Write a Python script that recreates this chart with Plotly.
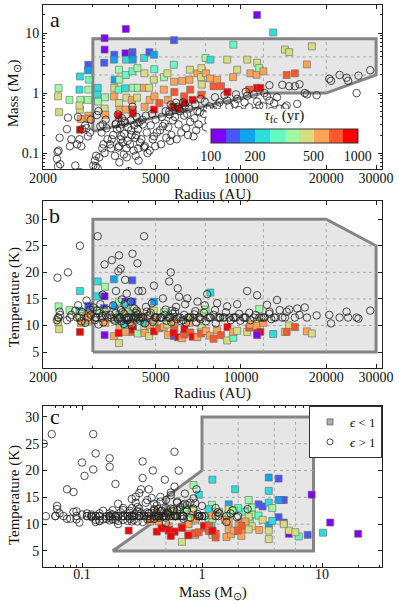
import math
import plotly.graph_objects as go

# ---- squares: cores with epsilon < 1 (radius AU, mass Msun, temperature K, tau_fc yr)
sq_radius = [2270, 2260, 2280, 2480, 2700, 2690, 2710, 2700, 2720, 2700, 2690,
             2890, 2880, 2900, 2890, 2880, 2890, 2900,
             3120, 3110, 3130,
             3300, 3300, 3290, 3310, 3300, 3320,
             3570, 3560, 3580, 3570, 3560,
             3710, 3720, 3700, 3710, 3730, 3700,
             3920, 3910, 3930, 3920, 3900, 3940, 3920,
             4140, 4130, 4150, 4140, 4160, 4120, 4140, 4150,
             4310, 4320, 4300,
             4550, 4560, 4540, 4570,
             4750, 4740, 4760,
             4930, 4940, 4920, 4950, 4930,
             5150, 5350, 5340, 5500, 5520,
             5800, 5790, 5810, 5820, 5780,
             6000, 6200, 6300, 6320,
             6600, 6580, 6620, 6750,
             7020, 7250, 7230, 7270, 7250,
             7500, 7520, 7800, 7780,
             8000, 8240, 8500, 8940, 8960,
             9400, 9380, 9700, 10520, 10700, 10800,
             11400, 11400, 11350, 11600, 11700, 12000,
             11400, 13000, 14300, 14800, 15500, 17100, 17800, 14500]
sq_mass = [1.21, 0.88, 0.48, 0.77, 1.89, 1.14, 0.77, 0.53, 0.37, 0.245, 0.62,
           2.96, 2.38, 1.67, 1.14, 0.77, 0.42, 0.37,
           1.22, 0.94, 0.72,
           8.2, 5.3, 3.2, 0.85, 0.55, 0.435,
           4.35, 3.6, 1.67, 1.22, 0.88,
           2.45, 1.67, 1.14, 0.68, 0.53, 0.42,
           11.7, 4.6, 3.6, 2.0, 1.2, 0.84, 0.53,
           4.8, 4.35, 3.6, 2.3, 1.22, 0.77, 0.53, 0.46,
           2.6, 1.22, 0.84,
           3.85, 2.13, 1.22, 0.59,
           4.8, 1.22, 0.77,
           4.35, 2.5, 1.67, 0.88, 0.53,
           0.68, 1.84, 1.14, 2.13, 0.77,
           7.6, 2.96, 1.55, 1.04, 0.59,
           0.55, 1.6, 0.88, 0.68,
           2.45, 1.67, 1.14, 0.77,
           2.13, 2.6, 1.84, 1.38, 0.94,
           3.85, 2.13, 3.6, 1.75,
           1.3, 1.67, 1.3, 3.6, 1.04,
           6.4, 1.84, 2.45, 3.6, 1.14, 2.13,
           1.22, 3.2, 2.02, 2.6, 1.22, 2.3,
           20.0, 10.2, 5.3, 4.8, 2.13, 3.0, 6.0, 2.0]
sq_temp = [13.6, 10.7, 9.3, 12.9, 16.5, 12.8, 12.2, 11.5, 10.5, 8.8, 11.8,
           13.7, 12.4, 12.0, 11.5, 10.7, 12.2, 11.0,
           18.3, 15.5, 12.9,
           15.5, 8.2, 13.3, 17.3, 12.5, 10.5,
           11.3, 18.7, 13.7, 11.2, 8.0,
           14.5, 12.0, 10.8, 6.7, 9.6, 8.6,
           10.3, 14.5, 14.0, 13.0, 9.8, 12.5, 8.8,
           14.5, 18.5, 9.8, 12.3, 11.0, 10.0, 8.8, 9.2,
           11.8, 8.5, 12.5,
           10.6, 9.2, 11.6, 8.6,
           10.3, 8.0, 10.0,
           14.5, 10.6, 12.8, 11.0, 8.9,
           9.5, 12.5, 9.7, 10.2, 8.2,
           8.0, 11.6, 10.8, 9.3, 8.6,
           7.8, 7.6, 8.3, 9.3,
           11.4, 10.5, 8.7, 7.9,
           7.8, 9.6, 8.7, 12.3, 8.5,
           13.0, 9.0, 16.2, 8.1,
           7.5, 9.1, 8.2, 7.2, 9.7,
           7.7, 8.8, 9.0, 8.8, 9.6, 10.2,
           8.7, 10.8, 9.9, 13.1, 8.8, 10.5,
           8.2, 8.4, 8.8, 10.0, 9.7, 8.9, 8.5, 8.8]
sq_tau = [350, 440, 420, 340, 225, 215, 365, 460, 560, 900, 470,
          140, 180, 280, 380, 345, 540, 580,
          235, 240, 360,
          110, 105, 135, 370, 430, 600,
          148, 172, 190, 455, 520,
          335, 355, 270, 480, 570, 850,
          118, 112, 220, 295, 230, 445, 610,
          142, 138, 185, 285, 375, 550, 700, 950,
          348, 390, 410,
          212, 465, 590, 530,
          145, 440, 560,
          176, 300, 420, 540, 880,
          680, 350, 580, 460, 600,
          140, 275, 520, 720, 920,
          980, 570, 750, 860,
          430, 610, 690, 940,
          550, 455, 480, 445, 740,
          360, 590, 228, 530,
          710, 560, 760, 410, 900,
          290, 540, 465, 440, 700, 580,
          850, 420, 600, 345, 950, 570,
          108, 225, 460, 430, 720, 550, 445, 690]

# ---- circles: cores with epsilon > 1
ci_radius = [2250, 2290, 2270, 2240, 2300, 2260,
             2450, 2520, 2490, 2430, 2600,
             2700, 2660, 2750, 2690, 2730, 2640,
             2850, 2930, 2880, 2950, 2820, 3010,
             3120, 3080, 3160, 3050, 3190, 3100, 3140, 3070,
             3300, 3250, 3350, 3220, 3380, 3270, 3330, 3240,
             3500, 3620, 3540, 3650, 3480, 3590, 3610, 3450, 3680,
             3710, 3760, 3690, 3800, 3740, 3780, 3720, 3820, 3770,
             3900, 3950, 3880, 4000, 3870, 3980, 3940, 3860, 4020,
             4140, 4080, 4200, 4100, 4230, 4060, 4180, 4250, 4110,
             4310, 4350, 4280, 4380, 4330, 4270, 4400, 4340,
             4550, 4480, 4620, 4500, 4650, 4450, 4580, 4680,
             4930, 4850, 5000, 4800, 5050, 4880, 4980, 4760,
             5300, 5420, 5250, 5380, 5180, 5450, 5220,
             5650, 5580, 5720, 5600, 5750, 5540, 5680, 5620,
             5980, 6050, 5900, 6100, 5850, 6020, 6150, 5930,
             6460, 6350, 6550, 6300, 6620, 6400, 6500, 6250,
             7020, 6900, 7150, 6850, 7080, 6950, 7200, 6800,
             7600, 7450, 7750, 7400, 7680, 7520, 7800,
             8240, 8100, 8400, 8000, 8300, 8150, 8450,
             8940, 8750, 9100, 8850, 9200, 8650,
             9700, 9500, 9850, 9400, 9950, 9600,
             10520, 10300, 10700, 10200, 10800, 10400,
             11400, 11100, 11600, 11250, 11800,
             12360, 12100, 12600, 12000, 12800, 12600,
             13400, 13100, 13700, 13250, 14000,
             14500, 14300, 14800,
             15800, 15500, 16100,
             17100, 16800, 18500,
             20500, 20800, 22300, 23600, 23900, 25600, 26000, 28600]
ci_mass = [0.105, 0.18, 0.11, 0.08, 0.065, 0.06,
           0.39, 0.17, 0.13, 0.25, 0.062,
           0.048, 0.40, 0.25, 0.17, 0.13, 0.14,
           0.26, 0.22, 0.19, 0.36, 0.29, 0.062,
           0.056, 0.09, 0.085, 0.075, 0.28, 0.43, 0.5, 0.06,
           0.10, 0.3, 0.26, 0.22, 0.17, 0.14, 0.36, 0.12,
           0.17, 0.31, 0.2, 0.25, 0.12, 0.09, 0.3, 0.14, 0.44,
           0.13, 0.17, 0.124, 0.38, 0.26, 0.19, 0.07, 0.15, 0.3,
           0.32, 0.085, 0.34, 0.27, 0.21, 0.16, 0.12, 0.095, 0.05,
           0.59, 0.35, 0.29, 0.24, 0.18, 0.14, 0.11, 0.09, 0.2,
           0.32, 0.075, 0.4, 0.33, 0.25, 0.2, 0.15, 0.12,
           0.124, 0.36, 0.42, 0.3, 0.22, 0.17, 0.13, 0.1,
           0.19, 0.45, 0.36, 0.29, 0.22, 0.17, 0.13, 0.11,
           0.28, 0.5, 0.4, 0.31, 0.24, 0.18, 0.14,
           0.64, 0.49, 0.58, 0.44, 0.35, 0.27, 0.2, 0.16,
           0.59, 0.55, 0.69, 0.5, 0.4, 0.3, 0.22, 0.17,
           0.45, 0.62, 0.55, 0.42, 0.33, 0.26, 0.2, 0.7,
           0.5, 0.65, 0.48, 0.38, 0.3, 0.24, 0.8, 0.19,
           0.55, 0.72, 0.6, 0.45, 0.35, 0.27, 0.22,
           0.62, 0.85, 0.7, 0.52, 0.41, 0.32, 0.26,
           0.75, 0.92, 0.6, 0.46, 0.37, 0.3,
           0.8, 0.66, 0.52, 0.43, 0.35, 0.95,
           0.9, 0.7, 0.58, 0.48, 0.4, 1.05,
           0.72, 0.95, 0.62, 0.5, 0.43,
           0.88, 1.0, 0.75, 0.6, 0.5, 1.35,
           0.85, 0.68, 0.55, 0.47, 1.37,
           0.62, 0.58, 1.3,
           0.66, 1.3, 1.4,
           0.95, 1.0, 0.92,
           1.73, 1.6, 2.0, 1.8, 1.6, 1.0, 1.95, 2.4]
ci_temp = [19.0, 12.6, 11.5, 11.0, 12.0, 11.5,
           20.0, 12.0, 11.5, 11.0, 12.8,
           25.0, 13.8, 12.5, 11.5, 10.8, 11.5,
           14.7, 13.0, 11.5, 12.0, 10.5, 13.4,
           26.8, 11.5, 12.3, 11.0, 14.0, 12.8, 10.2, 11.5,
           21.5, 15.8, 13.0, 11.5, 11.5, 10.6, 12.0, 11.8,
           22.3, 16.5, 13.8, 11.5, 11.5, 10.9, 12.3, 12.0, 11.2,
           23.2, 20.7, 20.2, 14.9, 11.5, 10.8, 11.5, 12.5, 12.9,
           18.6, 16.0, 14.0, 11.5, 12.2, 11.0, 11.5, 10.3, 11.5,
           23.5, 14.5, 13.2, 11.5, 11.8, 10.6, 11.5, 12.4, 10.0,
           21.7, 16.5, 12.8, 11.5, 12.1, 11.5, 10.9, 11.3,
           26.8, 16.5, 13.5, 11.5, 12.6, 11.5, 10.4, 11.8,
           17.5, 14.2, 11.5, 12.4, 11.5, 10.7, 11.5, 12.0,
           15.1, 13.0, 11.5, 12.0, 11.5, 10.9, 11.5,
           20.0, 18.3, 12.8, 11.5, 12.2, 11.5, 10.6, 11.5,
           17.0, 15.4, 13.5, 11.5, 12.6, 11.5, 10.8, 11.2,
           15.1, 14.0, 11.5, 12.0, 11.5, 10.5, 11.5, 11.0,
           14.5, 12.7, 11.5, 12.1, 11.5, 10.6, 11.2, 11.5,
           15.9, 13.8, 11.5, 12.4, 11.5, 10.8, 11.5,
           14.2, 12.9, 11.5, 12.0, 11.5, 10.4, 11.5,
           13.6, 11.5, 11.5, 12.5, 11.0, 11.5,
           14.0, 11.5, 12.2, 11.5, 10.9, 11.5,
           16.5, 11.5, 12.4, 11.5, 11.0, 11.5,
           15.7, 11.5, 11.5, 12.0, 11.5,
           13.9, 11.5, 12.6, 11.5, 11.2, 12.2,
           14.8, 11.5, 12.9, 11.5, 11.5,
           12.6, 11.5, 13.0,
           13.2, 11.5, 12.0,
           11.5, 13.4, 11.9,
           12.0, 10.4, 11.5, 12.6, 11.5, 11.5, 11.3, 12.8]

# ---- selection regions drawn in each panel
region_a_r = [3000, 3000, 30000, 30000, 20000, 12000, 3000]
region_a_m = [0.23, 8, 8, 2, 1, 1, 0.23]
region_b_r = [3000, 3000, 20000, 30000, 30000, 3000]
region_b_t = [5, 30, 30, 25, 5, 5]
region_c_m = [0.18, 0.5, 0.5, 1, 1, 8.5, 8.5, 0.18]
region_c_t = [5, 12, 15, 20, 30, 30, 5, 5]

# dotted grid, only inside the regions
grid_a_r = [5000, 5000, None, 7500, 7500, None, 12000, 12000, None, 20000, 20000, None, 3000, 30000, None, 3000, 30000]
grid_a_m = [0.4, 8, None, 0.61, 8, None, 1, 8, None, 1, 8, None, 2, 2, None, 4, 4]
grid_b_r = [5000, 5000, None, 7500, 7500, None, 12000, 12000, None, 20000, 20000, None,
            3000, 30000, None, 3000, 30000, None, 3000, 30000, None, 3000, 30000]
grid_b_t = [5, 30, None, 5, 30, None, 5, 30, None, 5, 30, None, 10, 10, None, 15, 15, None, 20, 20, None, 25, 25]
grid_c_m = [0.5, 0.5, None, 2, 2, None, 4, 4, None, 6, 6, None,
            0.373, 8.5, None, 0.5, 8.5, None, 1, 8.5, None, 1, 8.5]
grid_c_t = [5, 12, None, 5, 30, None, 5, 30, None, 5, 30, None, 10, 10, None, 15, 15, None, 20, 20, None, 25, 25]

tau_ticks = [100, 200, 500, 1000]
rainbow10 = ['#8000ff', '#4757fb', '#0ea4f0', '#2bdddd', '#63fbc3',
             '#9cfba4', '#d5dd80', '#ffa457', '#ff572c', '#ff0000']

FONT = 'Liberation Serif'
colorscale = []
for i, c in enumerate(rainbow10):
    colorscale.append([i / 10, c])
    colorscale.append([(i + 1) / 10, c])
log_tau = [math.log10(t) for t in sq_tau]

fig = go.Figure()

panels = [
    ('x', 'y', region_a_r, region_a_m, grid_a_r, grid_a_m, sq_radius, sq_mass, ci_radius, ci_mass),
    ('x2', 'y2', region_b_r, region_b_t, grid_b_r, grid_b_t, sq_radius, sq_temp, ci_radius, ci_temp),
    ('x3', 'y3', region_c_m, region_c_t, grid_c_m, grid_c_t, sq_mass, sq_temp, ci_mass, ci_temp),
]

for k, (xa, ya, rx, ry, gx, gy, sx, sy, cx, cy) in enumerate(panels):
    fig.add_trace(go.Scatter(x=rx, y=ry, xaxis=xa, yaxis=ya, mode='lines', fill='toself',
                             fillcolor='#e6e6e6', line=dict(color='#848484', width=3),
                             showlegend=False, hoverinfo='skip'))
    fig.add_trace(go.Scatter(x=gx, y=gy, xaxis=xa, yaxis=ya, mode='lines',
                             line=dict(color='#a8a8a8', width=1, dash='dot'),
                             showlegend=False, hoverinfo='skip'))
    marker = dict(symbol='square', size=7, color=log_tau, colorscale=colorscale,
                  cmin=2, cmax=3, line=dict(color='rgba(110,110,110,0.8)', width=0.8))
    if k == 0:
        marker['showscale'] = True
        marker['colorbar'] = dict(
            orientation='h', x=0.712, xanchor='center', y=0.722, yanchor='bottom',
            len=0.457, thickness=14, outlinewidth=1, outlinecolor='#333',
            tickvals=[math.log10(t) for t in tau_ticks], ticktext=[str(t) for t in tau_ticks],
            ticks='', tickfont=dict(family=FONT, size=14, color='#111'),
            title=dict(text='<i>τ</i><sub>fc</sub> (yr)', side='top',
                       font=dict(family=FONT, size=15, color='#111')),
            bgcolor='white', xpad=4, ypad=2)
    fig.add_trace(go.Scatter(x=sx, y=sy, xaxis=xa, yaxis=ya, mode='markers',
                             marker=marker, showlegend=False))
    fig.add_trace(go.Scatter(x=cx, y=cy, xaxis=xa, yaxis=ya, mode='markers',
                             marker=dict(symbol='circle-open', size=7.5, color='#222',
                                         line=dict(width=0.8)),
                             showlegend=False))

# legend-only entries
fig.add_trace(go.Scatter(x=[None], y=[None], xaxis='x3', yaxis='y3', mode='markers',
                         name='<i>ϵ</i> &lt; 1',
                         marker=dict(symbol='square', size=6, color='#b0b0b0',
                                     line=dict(color='#666', width=0.8))))
fig.add_trace(go.Scatter(x=[None], y=[None], xaxis='x3', yaxis='y3', mode='markers',
                         name='<i>ϵ</i> &gt; 1',
                         marker=dict(symbol='circle-open', size=6, color='#222',
                                     line=dict(width=0.8))))

axis_common = dict(showline=True, linecolor='#222', linewidth=1, mirror='allticks',
                   ticks='inside', ticklen=4, tickcolor='#222', showgrid=False,
                   zeroline=False, tickfont=dict(family=FONT, size=14, color='#111'))
minor_log = dict(ticks='inside', ticklen=2, tickcolor='#222', showgrid=False)

r_ticks = [2000, 5000, 10000, 20000, 30000]
r_minor = [3000, 4000, 6000, 7000, 8000, 9000]
m_ticks = [0.1, 1, 10]
m_minor = [0.06, 0.07, 0.08, 0.09, 0.2, 0.3, 0.4, 0.5, 0.6, 0.7, 0.8, 0.9,
           2, 3, 4, 5, 6, 7, 8, 9, 20, 30]
t_ticks = [5, 10, 15, 20, 25, 30]

fig.update_layout(
    width=399, height=604,
    margin=dict(l=43, r=17, t=5, b=37),
    plot_bgcolor='white', paper_bgcolor='white',
    font=dict(family=FONT, color='#111'),
    xaxis=dict(axis_common, type='log', range=[math.log10(2000), 4.498], anchor='y',
               tickvals=r_ticks, ticktext=[str(v) for v in r_ticks], ticklabelstandoff=-4,
               minor=dict(minor_log, tickvals=r_minor)),
    yaxis=dict(axis_common, type='log', range=[-1.267, 1.467], domain=[0.708, 1], anchor='x',
               tickvals=m_ticks, ticktext=['0.1', '1', '10'],
               minor=dict(minor_log, tickvals=m_minor)),
    xaxis2=dict(axis_common, type='log', range=[math.log10(2000), 4.498], anchor='y2',
                tickvals=r_ticks, ticktext=[str(v) for v in r_ticks], ticklabelstandoff=-4,
                minor=dict(minor_log, tickvals=r_minor)),
    yaxis2=dict(axis_common, range=[2.0, 33.4], domain=[0.354, 0.651], anchor='x2',
                tickvals=t_ticks),
    xaxis3=dict(axis_common, type='log', range=[-1.325, 1.5], anchor='y3',
                tickvals=m_ticks, ticktext=['0.1', '1', '10'], ticklabelstandoff=-6,
                minor=dict(minor_log, tickvals=m_minor)),
    yaxis3=dict(axis_common, range=[2.0, 32.05], domain=[0, 0.2865], anchor='x3',
                tickvals=t_ticks),
    legend=dict(x=1, y=0.2865, xanchor='right', yanchor='top', bgcolor='white',
                bordercolor='#333', borderwidth=1, font=dict(family=FONT, size=13),
                tracegroupgap=0, itemwidth=30),
)

# panel letters
for letter, ypos in [('a', 0.975), ('b', 0.6246), ('c', 0.267)]:
    fig.add_annotation(text=letter, xref='paper', yref='paper', x=0.035, y=ypos,
                       xanchor='center', yanchor='middle', showarrow=False,
                       font=dict(family=FONT, size=22, color='#111'))

# axis titles
for text, ypos in [('Radius (AU)', 0.662), ('Radius (AU)', 0.308), ('Mass (M<sub>⊙</sub>)', -0.046)]:
    fig.add_annotation(text=text, xref='paper', yref='paper', x=0.5, y=ypos,
                       xanchor='center', yanchor='middle', showarrow=False,
                       font=dict(family=FONT, size=15, color='#111'))
for text, ypos in [('Mass (M<sub>⊙</sub>)', 0.843), ('Temperature (K)', 0.48), ('Temperature (K)', 0.128)]:
    fig.add_annotation(text=text, xref='paper', yref='paper', x=-0.0855, y=ypos, textangle=-90,
                       xanchor='center', yanchor='middle', showarrow=False,
                       font=dict(family=FONT, size=15, color='#111'))

fig.write_html('out.html', config={'displayModeBar': False},
               post_script="document.body.style.margin='0';")
